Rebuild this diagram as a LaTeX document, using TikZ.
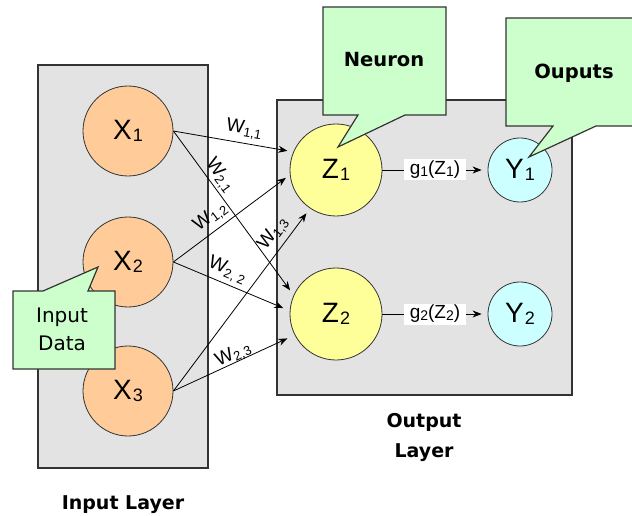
\documentclass[tikz,border=0pt]{standalone}
\usepackage{fontspec}
\setmainfont{Liberation Sans}
\newfontfamily\labfont{DejaVu Sans}
\usetikzlibrary{arrows.meta}
\definecolor{layergray}{HTML}{E3E3E3}
\definecolor{peach}{HTML}{FFCC99}
\definecolor{zyellow}{HTML}{FFFF99}
\definecolor{ycyan}{HTML}{CCFFFF}
\definecolor{callgreen}{HTML}{CCFFCC}
\definecolor{edgegray}{HTML}{333333}
\newcommand{\nsub}[1]{\kern1pt\raisebox{-2pt}{\fontsize{18pt}{18pt}\selectfont #1}}
\newcommand{\wsub}[1]{\raisebox{-3pt}{\fontsize{13pt}{13pt}\selectfont #1}}
\newcommand{\gsub}[1]{\raisebox{-2pt}{\fontsize{14pt}{14pt}\selectfont #1}}
\begin{document}
\begin{tikzpicture}[x=1pt,y=-1pt,
  layerbox/.style={draw=edgegray, line width=1.4pt, fill=layergray, inner sep=0pt},
  neuron/.style={circle, draw=edgegray, line width=0.8pt, inner sep=0pt, font=\fontsize{28pt}{28pt}\selectfont},
  inneuron/.style={neuron, fill=peach, minimum size=90pt},
  hidneuron/.style={neuron, fill=zyellow, minimum size=92pt},
  outneuron/.style={neuron, fill=ycyan, minimum size=64pt},
  link/.style={draw=black, line width=0.8pt, -{Stealth[length=9pt,width=7pt]}},
  wlabel/.style={sloped, inner sep=1pt, font=\fontsize{19pt}{19pt}\selectfont},
  glabel/.style={fill=white, inner sep=1pt, minimum width=62pt, minimum height=21pt, font=\fontsize{19pt}{19pt}\selectfont},
  callout/.style={draw=edgegray, line width=1.2pt, fill=callgreen, line join=miter},
  calltext/.style={font=\labfont\bfseries\fontsize{19.5pt}{30pt}\selectfont, align=center},
  layertext/.style={font=\labfont\bfseries\fontsize{19pt}{30pt}\selectfont, align=center}
]
\useasboundingbox (0,0) rectangle (632,516);

% layer boxes
\node[layerbox, minimum width=170pt, minimum height=403pt] (inbox) at (123,266.5) {};
\node[layerbox, minimum width=295pt, minimum height=295pt] (outbox) at (424.5,247.5) {};

% neurons
\node[inneuron] (X1) at (128,131) {X\nsub{1}};
\node[inneuron] (X2) at (128,262) {X\nsub{2}};
\node[inneuron] (X3) at (128,391) {X\nsub{3}};
\node[hidneuron] (Z1) at (336,170) {Z\nsub{1}};
\node[hidneuron] (Z2) at (336,314) {Z\nsub{2}};
\node[outneuron] (Y1) at (520,170) {Y\nsub{1}};
\node[outneuron] (Y2) at (520,314) {Y\nsub{2}};

% weighted connections
\draw[link, shorten >=6pt] (X1.east) -- (Z1.157) node[wlabel, pos=.57, above=3.5pt] {W\wsub{1,1}};
\draw[link, shorten >=6pt] (X1.east) -- (Z2.156) node[wlabel, pos=.31, above=1pt] {W\wsub{2,1}};
\draw[link, shorten >=5pt] (X2.east) -- (Z1.186) node[wlabel, pos=.39, above=3.5pt] {W\wsub{1,2}};
\draw[link, shorten >=7pt] (X2.east) -- (Z2.176) node[wlabel, pos=.42, above=2.5pt] {W\wsub{2, 2}};
\draw[link, shorten >=6pt] (X3.east) -- (Z1.236) node[wlabel, pos=.815, above=4pt] {W\wsub{1,3}};
\draw[link, shorten >=8pt] (X3.east) -- (Z2.207) node[wlabel, pos=.52, above=-2.5pt] {W\wsub{2,3}};

% activations
\draw[link, shorten >=6pt] (Z1.east) -- (Y1.west) node[glabel, midway] (g1) {g\gsub{1}(Z\gsub{1})};
\draw[link, shorten >=6pt] (Z2.east) -- (Y2.west) node[glabel, midway] (g2) {g\gsub{2}(Z\gsub{2})};

% callouts
\draw[callout] (323,7) -- (446,7) -- (446,115) -- (405,115) -- (338,147) -- (358,115) -- (323,115) -- cycle;
\node[calltext] (neurontxt) at (384,60) {Neuron};
\draw[callout] (506,18) -- (640,18) -- (640,126) -- (596,126) -- (529,157) -- (553,126) -- (506,126) -- cycle;
\node[calltext] (ouputstxt) at (574,73) {Ouputs};
\draw[callout] (13,291) -- (43,291) -- (98,267) -- (88,291) -- (115,291) -- (115,369) -- (13,369) -- cycle;
\node[font=\labfont\fontsize{20pt}{28pt}\selectfont, align=center] (inputtxt) at (62,329) {Input\\Data};

% layer captions
\node[layertext] (outlbl) at (424,437) {Output\\Layer};
\node[layertext] (inlbl) at (123,505) {Input Layer};
\end{tikzpicture}
\end{document}
